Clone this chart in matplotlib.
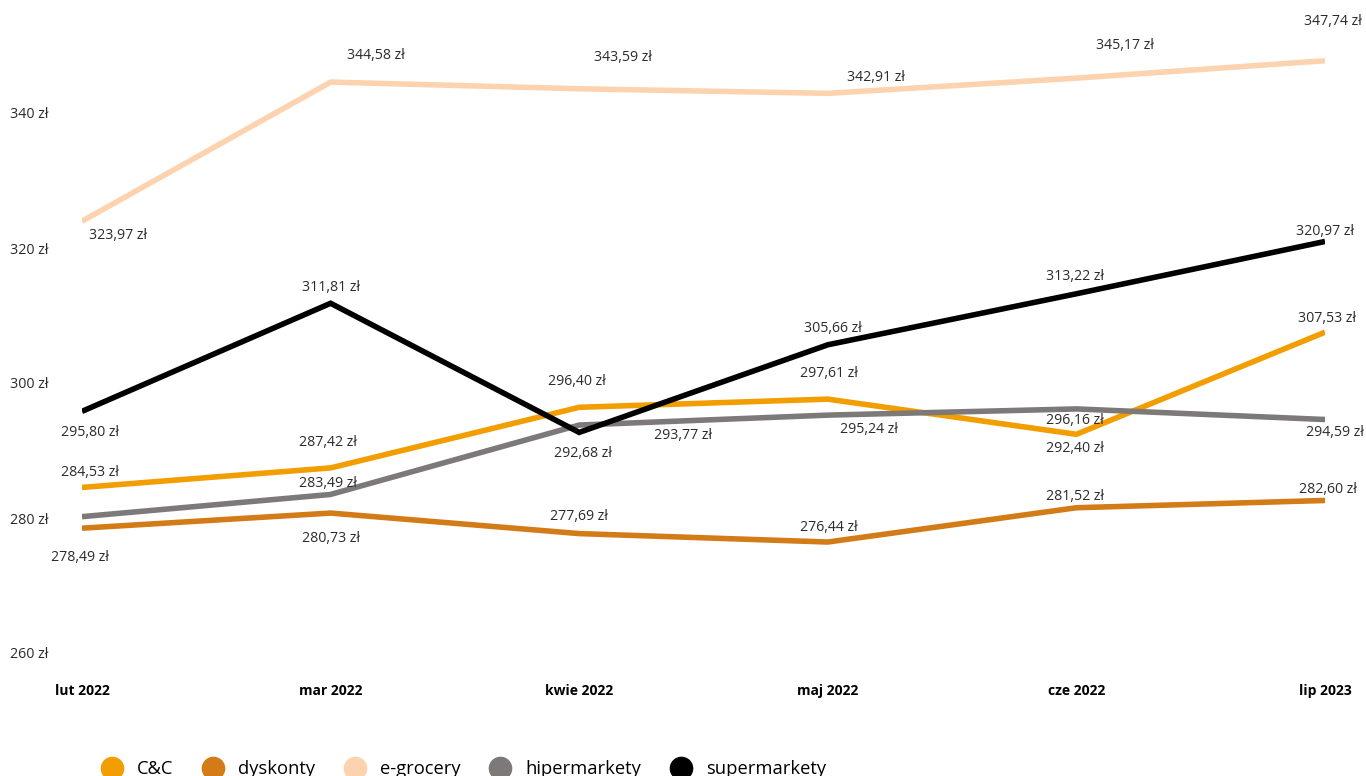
import matplotlib
matplotlib.use('Agg')
import matplotlib.pyplot as plt
from matplotlib.lines import Line2D

plt.rcParams['font.family'] = ['Open Sans', 'DejaVu Sans']

# Monthly basket price per channel
months = ["lut 2022", "mar 2022", "kwie 2022", "maj 2022", "cze 2022", "lip 2023"]
series_names = ["C&C", "dyskonty", "e-grocery", "hipermarkety", "supermarkety"]

cc = [284.53, 287.42, 296.40, 297.61, 292.40, 307.53]
dyskonty = [278.49, 280.73, 277.69, 276.44, 281.52, 282.60]
e_grocery = [323.97, 344.58, 343.59, 342.91, 345.17, 347.74]
hipermarkety = [280.2, 283.49, 293.77, 295.24, 296.16, 294.59]
supermarkety = [295.80, 311.81, 292.68, 305.66, 313.22, 320.97]

# Which points carry a value label (the first hipermarkety point is unlabelled)
labelled = {
    "hipermarkety": [False, True, True, True, True, True],
}

y_ticks = [260, 280, 300, 320, 340]

COLORS = {
    "C&C": "#F29D00",
    "dyskonty": "#D27B17",
    "e-grocery": "#FDD3AF",
    "hipermarkety": "#7D7978",
    "supermarkety": "#000000",
}

# Label offsets from the point, in pixels (x right, y up)
LABEL_OFFSETS = {
    "C&C": [(8, 15), (-3, 25), (-2, 26), (1, 26), (-1, -14), (2, 14)],
    "dyskonty": [(-2, -29), (0, -25), (0, 17), (1, 15), (-1, 11), (3, 11)],
    "e-grocery": [(36, -14), (45, 27), (44, 31), (48, 16), (49, 33), (8, 39)],
    "hipermarkety": [(0, 0), (-3, 11), (104, -10), (41, -14), (-1, -12), (10, -13)],
    "supermarkety": [(8, -21), (0, 16), (4, -21), (5, 16), (-1, 17), (0, 10)],
}

data = {
    "C&C": cc,
    "dyskonty": dyskonty,
    "e-grocery": e_grocery,
    "hipermarkety": hipermarkety,
    "supermarkety": supermarkety,
}


def fmt_pln(v):
    return f"{v:.2f}".replace(".", ",") + " zł"


W, H, DPI = 1366, 776, 100
fig = plt.figure(figsize=(W / DPI, H / DPI), dpi=DPI)
fig.patch.set_facecolor('white')

ax = fig.add_axes([82 / W, (H - 653) / H, (1325 - 82) / W, (653 - 45.5) / H])
ax.set_xlim(0, len(months) - 1)
ax.set_ylim(260, 350)

x = list(range(len(months)))
px = 0.72  # pixels -> points at 100 dpi

for name in series_names:
    vals = data[name]
    ax.plot(x, vals, color=COLORS[name], linewidth=4, solid_capstyle='butt',
            solid_joinstyle='miter', zorder=2)
    flags = labelled.get(name, [True] * len(vals))
    for i, v in enumerate(vals):
        if not flags[i]:
            continue
        dx, dy = LABEL_OFFSETS[name][i]
        ax.annotate(fmt_pln(v), (x[i], v), xytext=(dx * px, dy * px),
                    textcoords='offset points', ha='center', va='center',
                    fontsize=10.2, color='#2b2b2b', zorder=3, annotation_clip=False)

ax.set_xticks(x)
ax.set_xticklabels(months, fontweight='bold', fontsize=10)
ax.set_yticks(y_ticks)
ax.set_yticklabels([f"{t} zł" for t in y_ticks], fontsize=10.3, color='#2b2b2b')
ax.tick_params(axis='both', length=0)
ax.tick_params(axis='x', pad=22)
ax.tick_params(axis='y', pad=24)
for s in ax.spines.values():
    s.set_visible(False)

handles = [Line2D([], [], linestyle='none', marker='o', markersize=16,
                  markerfacecolor=COLORS[n], markeredgecolor=COLORS[n], label=n)
           for n in series_names]
fig.legend(handles=handles, loc='center left', bbox_to_anchor=(103 / W, 7 / H),
           ncol=5, frameon=False, fontsize=13.2, handlelength=0.95,
           handletextpad=0.9, columnspacing=1.68, borderpad=0, borderaxespad=0)

fig.savefig('out.png', dpi=DPI, facecolor='white')
